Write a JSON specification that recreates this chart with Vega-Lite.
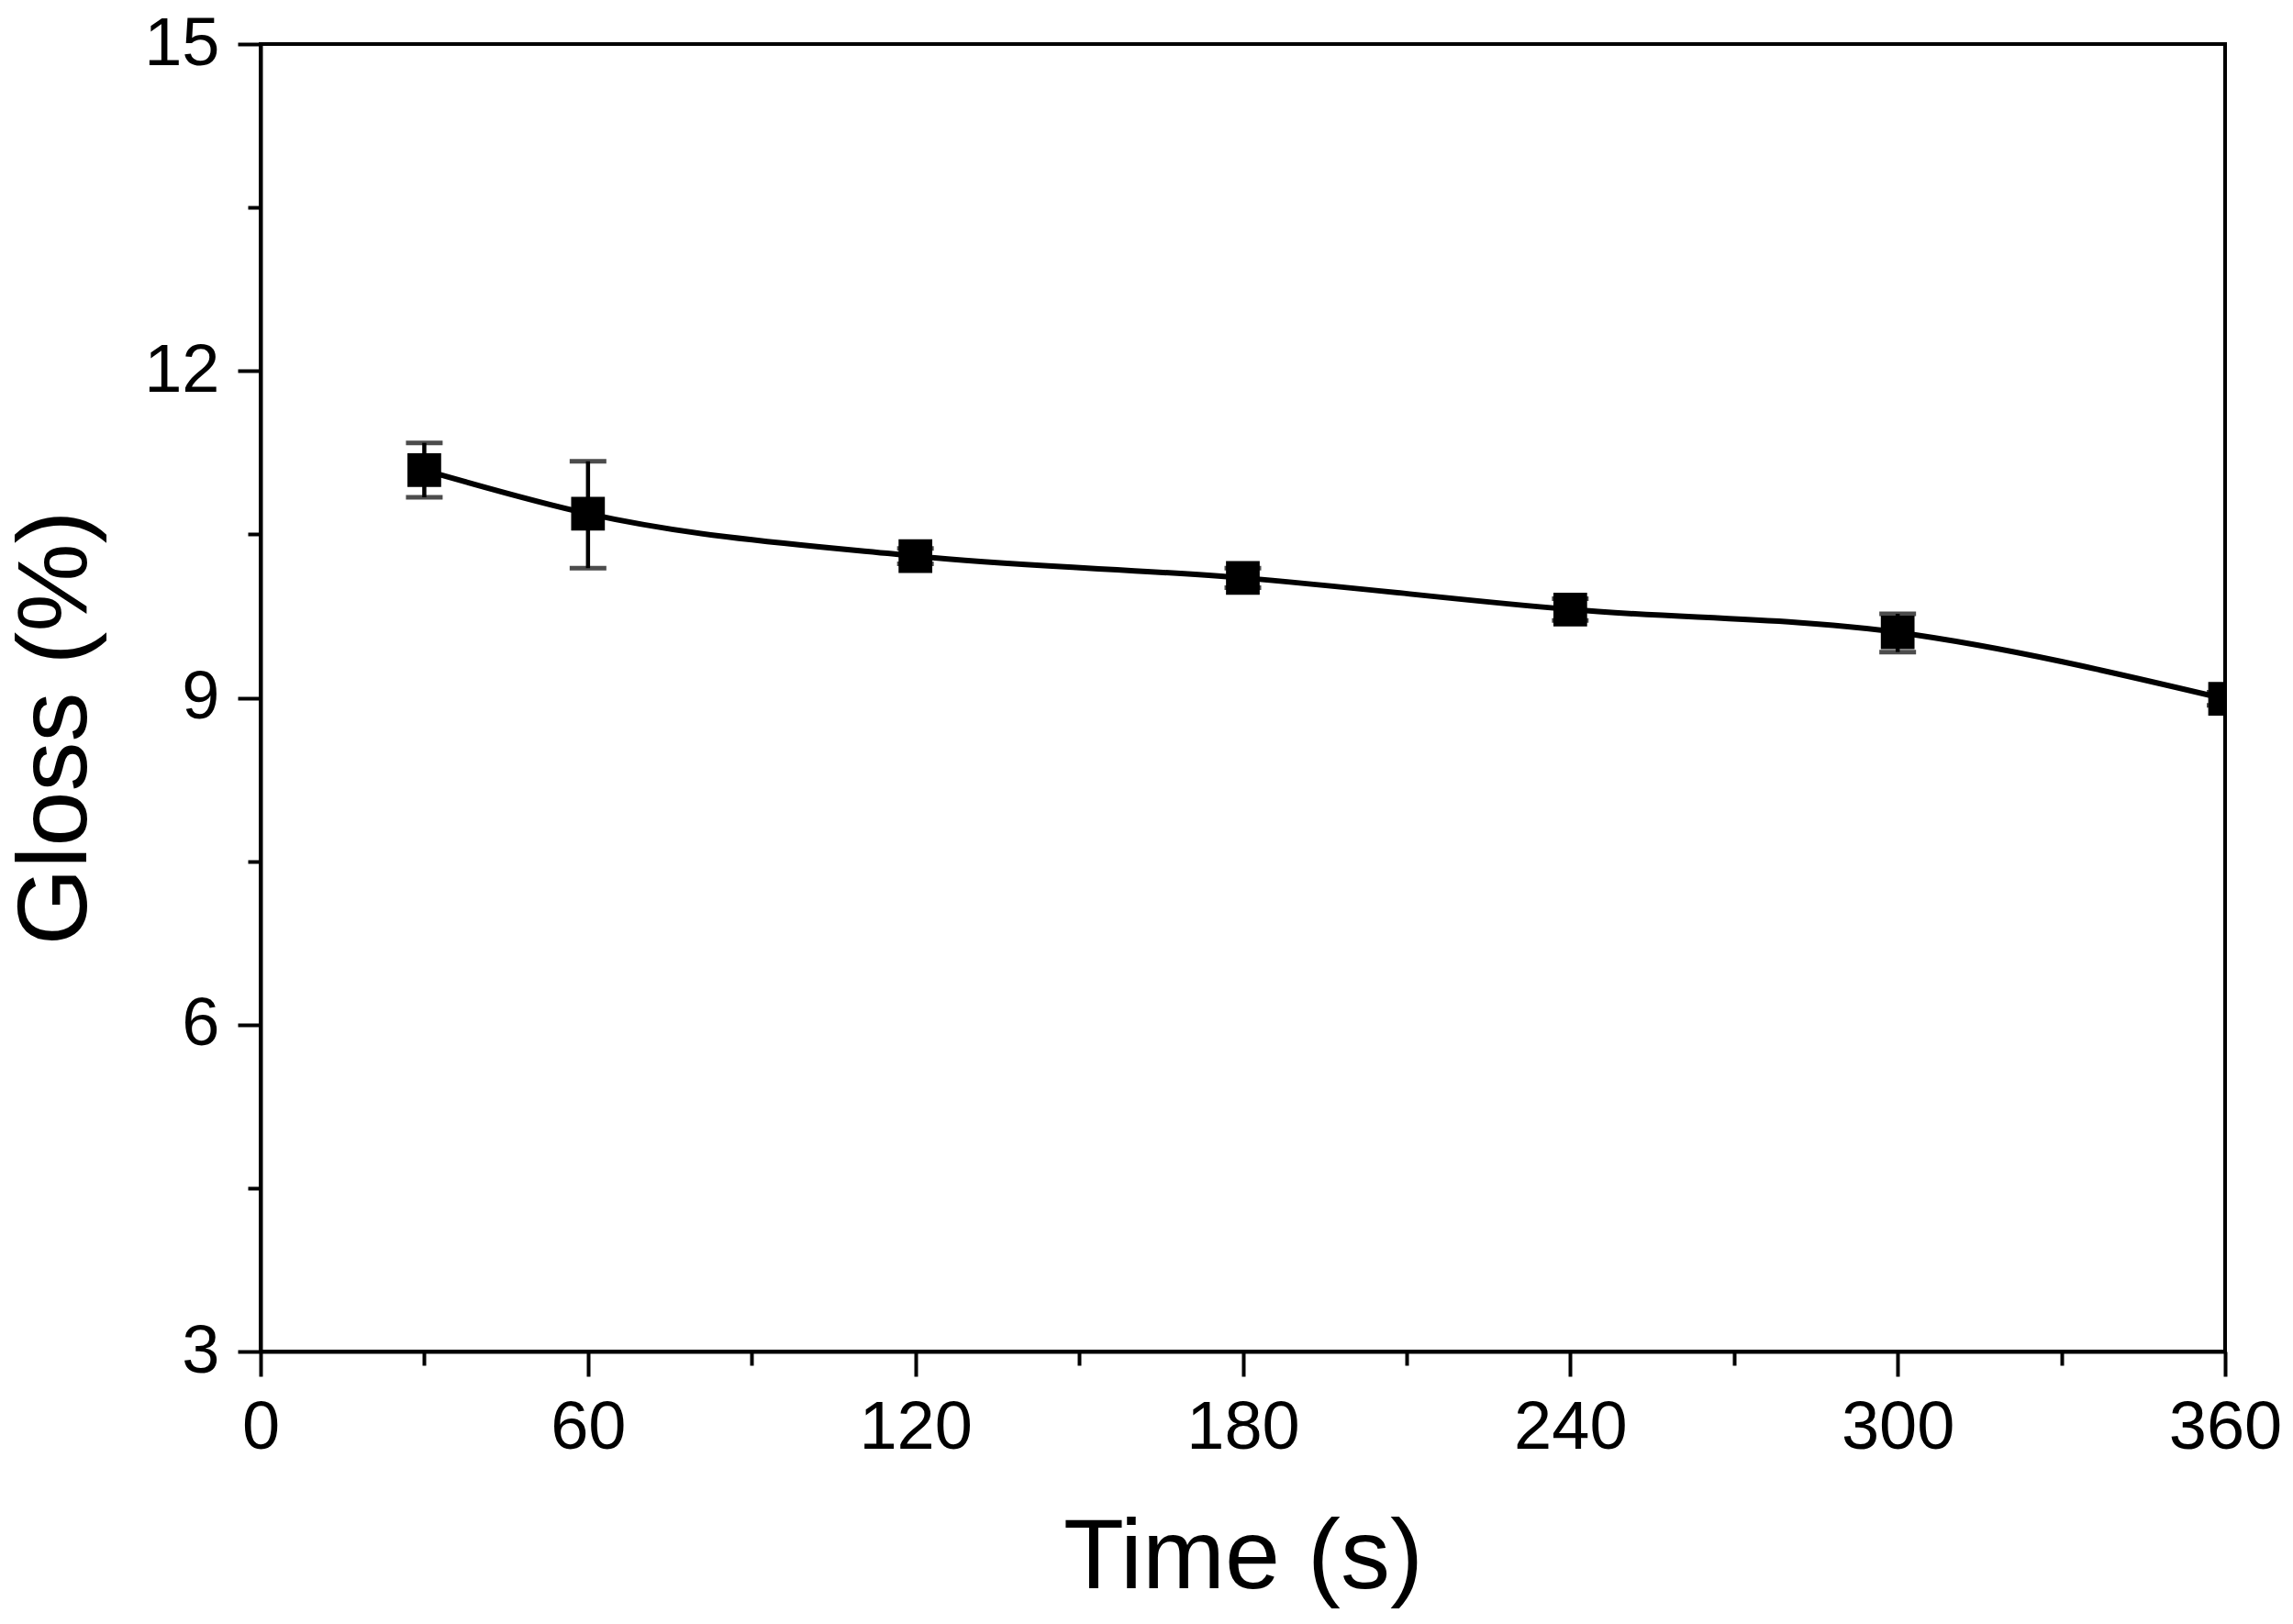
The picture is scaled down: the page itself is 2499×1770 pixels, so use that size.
{
  "$schema": "https://vega.github.io/schema/vega-lite/v6.json",
  "width": 2141,
  "height": 1425,
  "autosize": {"type": "none"},
  "padding": {"left": 284, "top": 48, "right": 74, "bottom": 297},
  "background": "white",
  "config": {
    "view": {"stroke": "black", "strokeWidth": 4},
    "font": "Liberation Sans",
    "axis": {
      "domainColor": "black",
      "domainWidth": 4,
      "tickColor": "black",
      "tickWidth": 4,
      "labelColor": "black",
      "labelFont": "Liberation Sans",
      "labelFontSize": 74,
      "titleFont": "Liberation Sans",
      "titleFontSize": 108,
      "titleFontWeight": "normal",
      "titleColor": "black",
      "grid": false
    }
  },
  "data": {
    "values": [
      {"t": 30, "g": 11.09, "lo": 10.84, "hi": 11.34},
      {"t": 60, "g": 10.69, "lo": 10.19, "hi": 11.17},
      {"t": 120, "g": 10.30, "lo": 10.23, "hi": 10.37},
      {"t": 180, "g": 10.10, "lo": 10.01, "hi": 10.19},
      {"t": 240, "g": 9.81, "lo": 9.71, "hi": 9.91},
      {"t": 300, "g": 9.60, "lo": 9.42, "hi": 9.77},
      {"t": 360, "g": 8.99, "lo": 8.93, "hi": 9.05}
    ]
  },
  "encoding": {
    "x": {
      "field": "t", "type": "quantitative",
      "scale": {"domain": [0, 360], "nice": false, "zero": false},
      "axis": {
        "title": "Time (s)",
        "values": [0, 30, 60, 90, 120, 150, 180, 210, 240, 270, 300, 330, 360],
        "labelExpr": "datum.value % 60 === 0 ? datum.label : ''",
        "tickSize": {"condition": {"test": "datum.value % 60 === 0", "value": 27}, "value": 15},
        "labelPadding": 20,
        "titlePadding": 52,
        "labelFlush": false,
        "labelOverlap": false
      }
    },
    "y": {
      "field": "g", "type": "quantitative",
      "scale": {"domain": [3, 15], "nice": false, "zero": false},
      "axis": {
        "title": "Gloss (%)",
        "values": [3, 4.5, 6, 7.5, 9, 10.5, 12, 13.5, 15],
        "labelExpr": "datum.value % 3 === 0 ? datum.label : ''",
        "tickSize": {"condition": {"test": "datum.value % 3 === 0", "value": 25}, "value": 14},
        "labelPadding": 20,
        "titlePadding": 40,
        "titleY": 745,
        "labelFlush": false,
        "labelOverlap": false
      }
    }
  },
  "layer": [
    {
      "mark": {"type": "line", "interpolate": "monotone", "color": "black", "strokeWidth": 6, "clip": true}
    },
    {
      "mark": {"type": "rule", "color": "black", "strokeWidth": 4.5, "clip": true},
      "encoding": {
        "y": {"field": "lo", "type": "quantitative"},
        "y2": {"field": "hi"}
      }
    },
    {
      "mark": {"type": "tick", "orient": "horizontal", "color": "black", "thickness": 5, "size": 40, "clip": true},
      "encoding": {"y": {"field": "lo", "type": "quantitative"}}
    },
    {
      "mark": {"type": "tick", "orient": "horizontal", "color": "black", "thickness": 5, "size": 40, "clip": true},
      "encoding": {"y": {"field": "hi", "type": "quantitative"}}
    },
    {
      "mark": {"type": "point", "shape": "square", "filled": true, "color": "black", "opacity": 1, "size": 1350, "clip": true}
    }
  ]
}
